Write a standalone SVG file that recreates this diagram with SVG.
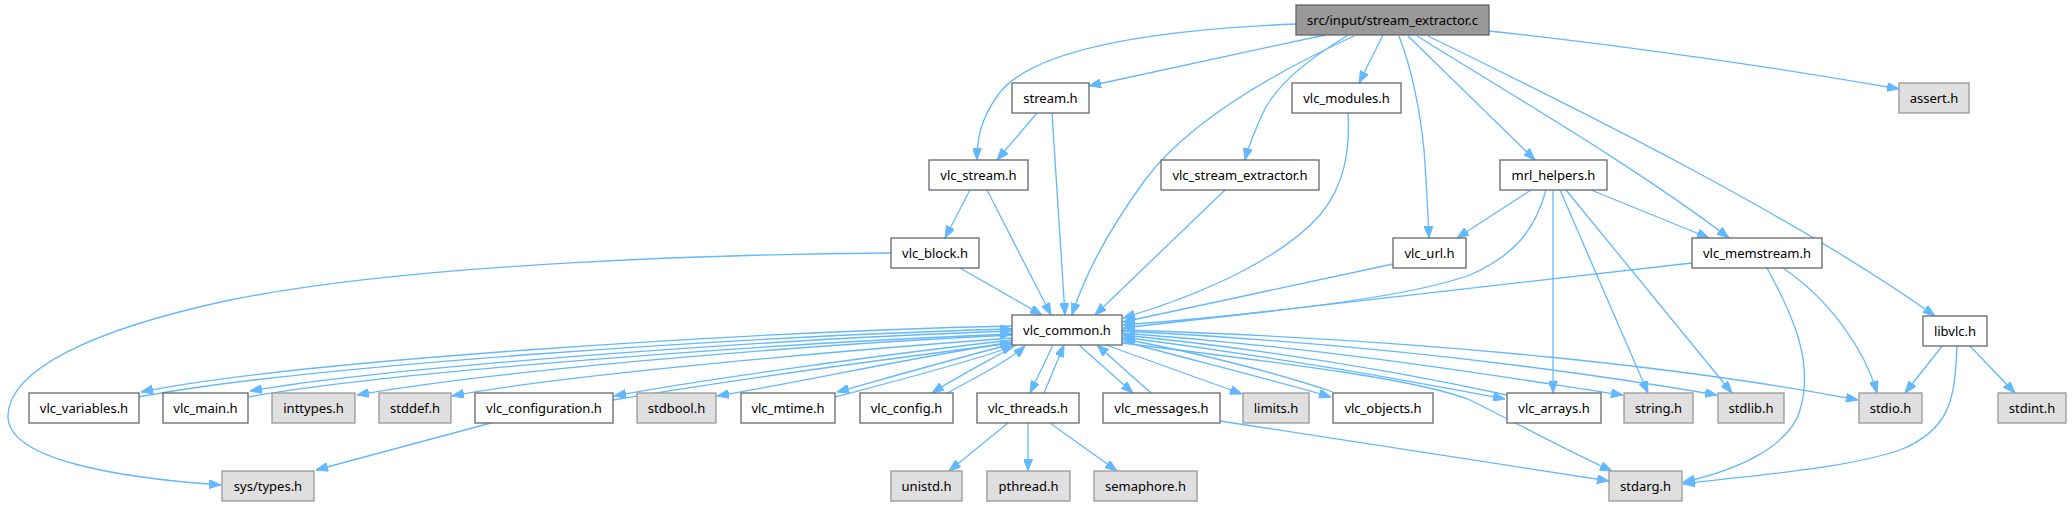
<svg xmlns="http://www.w3.org/2000/svg" width="2072" height="506" viewBox="0 0 2072 506">
<style>
.n rect{fill:#ffffff;stroke:#666666;stroke-width:1.3}
.g rect{fill:#e0e0e0;stroke:#999999;stroke-width:1.3}
.r rect{fill:#999999;stroke:#666666;stroke-width:1.3}
text{font-family:"Noto Sans","Liberation Sans",sans-serif;font-size:13px;fill:#000000;text-anchor:middle}
#edges path{fill:none;stroke:#63b8ff;stroke-width:1.3;marker-end:url(#ah)}
</style>
<defs>
<marker id="ah" markerWidth="12" markerHeight="9" refX="12" refY="4.5" orient="auto" markerUnits="userSpaceOnUse">
<path d="M0,0 L12,4.5 L0,9 z" fill="#63b8ff" stroke="#63b8ff" stroke-width="1"/>
</marker>
</defs>
<rect width="2072" height="506" fill="#ffffff"/>
<g id="edges">
<path d="M1296,24 C1150,30 1030,50 998,95 C980,120 977,140 977,160"/>
<path d="M1325,35 L1089,86"/>
<path d="M1354,36 C1280,70 1190,120 1145,180 C1105,235 1083,280 1072,315"/>
<path d="M1347,36 C1310,58 1275,85 1262,115 C1253,135 1248,148 1245,160"/>
<path d="M1383,35 L1359,83"/>
<path d="M1399,36 C1412,70 1420,110 1424,150 C1427,190 1428,215 1429,238"/>
<path d="M1408,36 L1535,160"/>
<path d="M1417,36 C1520,100 1640,170 1729,238"/>
<path d="M1428,36 C1600,120 1800,220 1935,316"/>
<path d="M1489,31 C1620,45 1780,68 1899,89"/>
<path d="M1037,113 L997,160"/>
<path d="M1052,113 L1065,315"/>
<path d="M970,190 L945,238"/>
<path d="M987,190 L1051,315"/>
<path d="M960,268 L1042,315"/>
<path d="M891,253 C740,254 420,262 230,300 C90,330 10,370 8,415 C6,460 120,478 221,485"/>
<path d="M1225,190 L1095,315"/>
<path d="M1348,113 C1350,150 1345,185 1320,215 C1280,260 1200,295 1123,318"/>
<path d="M1393,264 L1123,322"/>
<path d="M1531,190 L1457,238"/>
<path d="M1546,190 C1535,230 1515,255 1470,275 C1400,300 1250,315 1123,325"/>
<path d="M1553,190 L1553,393"/>
<path d="M1560,190 L1648,393"/>
<path d="M1566,190 L1732,393"/>
<path d="M1591,190 L1709,238"/>
<path d="M1692,263 L1123,328"/>
<path d="M1767,268 C1790,310 1815,360 1800,410 C1790,445 1740,470 1683,482"/>
<path d="M1783,268 C1830,300 1865,350 1877,393"/>
<path d="M1943,345 L1905,393"/>
<path d="M1969,345 L2015,393"/>
<path d="M1957,345 C1955,400 1950,430 1900,450 C1840,470 1750,475 1683,484"/>
<path d="M1012,326 C750,332 300,360 141,392"/>
<path d="M139,397 C300,366 750,336 1012,329"/>
<path d="M1012,331 C800,338 400,365 250,391"/>
<path d="M248,397 C400,370 800,342 1012,334"/>
<path d="M1012,335 C800,345 500,370 357,395"/>
<path d="M1012,338 C850,350 560,375 452,396"/>
<path d="M1012,340 C880,355 700,380 614,396"/>
<path d="M613,400 C700,385 880,360 1012,343"/>
<path d="M1012,342 C900,360 800,382 717,396"/>
<path d="M1012,344 C950,360 880,380 837,392"/>
<path d="M835,397 C880,385 960,365 1014,346"/>
<path d="M1016,345 C990,360 955,378 932,393"/>
<path d="M947,393 C975,378 1010,360 1025,346"/>
<path d="M1053,345 L1030,393"/>
<path d="M1044,393 L1064,345"/>
<path d="M1079,345 L1133,393"/>
<path d="M1151,393 L1097,345"/>
<path d="M1106,345 L1242,394"/>
<path d="M1122,341 C1200,362 1280,382 1331,397"/>
<path d="M1333,392 C1280,374 1200,353 1123,339"/>
<path d="M1122,337 C1300,360 1430,385 1505,399"/>
<path d="M1507,395 C1420,376 1300,353 1123,335"/>
<path d="M1122,333 C1350,350 1520,380 1623,395"/>
<path d="M1122,331 C1400,345 1600,375 1717,395"/>
<path d="M1122,330 C1450,340 1700,370 1858,400"/>
<path d="M1122,343 C1300,365 1420,380 1470,400 C1520,425 1570,452 1612,471"/>
<path d="M1220,421 L1609,481"/>
<path d="M491,423 L316,470"/>
<path d="M1008,423 L949,471"/>
<path d="M1028,423 L1028,471"/>
<path d="M1050,423 L1117,471"/>
</g>
<g id="n_src" class="r"><rect x="1296" y="5" width="193" height="30"/><text x="1392.5" y="24.5">src/input/stream_extractor.c</text></g>
<g id="n_stream" class="n"><rect x="1012" y="83" width="77" height="30"/><text x="1050.5" y="102.5">stream.h</text></g>
<g id="n_vlc_modules" class="n"><rect x="1292" y="83" width="109" height="30"/><text x="1346.5" y="102.5">vlc_modules.h</text></g>
<g id="n_assert" class="g"><rect x="1899" y="83" width="70" height="30"/><text x="1934" y="102.5">assert.h</text></g>
<g id="n_vlc_stream" class="n"><rect x="929" y="160" width="99" height="30"/><text x="978.5" y="179.5">vlc_stream.h</text></g>
<g id="n_vlc_stream_extractor" class="n"><rect x="1161" y="160" width="158" height="30"/><text x="1240" y="179.5">vlc_stream_extractor.h</text></g>
<g id="n_mrl_helpers" class="n"><rect x="1500" y="160" width="107" height="30"/><text x="1553.5" y="179.5">mrl_helpers.h</text></g>
<g id="n_vlc_block" class="n"><rect x="891" y="238" width="88" height="30"/><text x="935" y="257.5">vlc_block.h</text></g>
<g id="n_vlc_url" class="n"><rect x="1393" y="238" width="73" height="30"/><text x="1429.5" y="257.5">vlc_url.h</text></g>
<g id="n_vlc_memstream" class="n"><rect x="1692" y="238" width="130" height="30"/><text x="1757" y="257.5">vlc_memstream.h</text></g>
<g id="n_vlc_common" class="n"><rect x="1012" y="315" width="110" height="30"/><text x="1067" y="334.5">vlc_common.h</text></g>
<g id="n_libvlc" class="n"><rect x="1923" y="316" width="64" height="30"/><text x="1955" y="335.5">libvlc.h</text></g>
<g id="n_vlc_variables" class="n"><rect x="29" y="393" width="110" height="30"/><text x="84" y="412.5">vlc_variables.h</text></g>
<g id="n_vlc_main" class="n"><rect x="163" y="393" width="85" height="30"/><text x="205.5" y="412.5">vlc_main.h</text></g>
<g id="n_inttypes" class="g"><rect x="272" y="393" width="83" height="30"/><text x="313.5" y="412.5">inttypes.h</text></g>
<g id="n_stddef" class="g"><rect x="379" y="393" width="72" height="30"/><text x="415" y="412.5">stddef.h</text></g>
<g id="n_vlc_configuration" class="n"><rect x="475" y="393" width="138" height="30"/><text x="544" y="412.5">vlc_configuration.h</text></g>
<g id="n_stdbool" class="g"><rect x="637" y="393" width="79" height="30"/><text x="676.5" y="412.5">stdbool.h</text></g>
<g id="n_vlc_mtime" class="n"><rect x="741" y="393" width="94" height="30"/><text x="788" y="412.5">vlc_mtime.h</text></g>
<g id="n_vlc_config" class="n"><rect x="860" y="393" width="93" height="30"/><text x="906.5" y="412.5">vlc_config.h</text></g>
<g id="n_vlc_threads" class="n"><rect x="977" y="393" width="102" height="30"/><text x="1028" y="412.5">vlc_threads.h</text></g>
<g id="n_vlc_messages" class="n"><rect x="1103" y="393" width="117" height="30"/><text x="1161.5" y="412.5">vlc_messages.h</text></g>
<g id="n_limits" class="g"><rect x="1243" y="393" width="66" height="30"/><text x="1276" y="412.5">limits.h</text></g>
<g id="n_vlc_objects" class="n"><rect x="1333" y="393" width="100" height="30"/><text x="1383" y="412.5">vlc_objects.h</text></g>
<g id="n_vlc_arrays" class="n"><rect x="1507" y="393" width="94" height="30"/><text x="1554" y="412.5">vlc_arrays.h</text></g>
<g id="n_string" class="g"><rect x="1624" y="393" width="69" height="30"/><text x="1658.5" y="412.5">string.h</text></g>
<g id="n_stdlib" class="g"><rect x="1718" y="393" width="66" height="30"/><text x="1751" y="412.5">stdlib.h</text></g>
<g id="n_stdio" class="g"><rect x="1859" y="393" width="63" height="30"/><text x="1890.5" y="412.5">stdio.h</text></g>
<g id="n_stdint" class="g"><rect x="1998" y="393" width="68" height="30"/><text x="2032" y="412.5">stdint.h</text></g>
<g id="n_sys_types" class="g"><rect x="222" y="471" width="92" height="30"/><text x="268" y="490.5">sys/types.h</text></g>
<g id="n_unistd" class="g"><rect x="891" y="471" width="71" height="30"/><text x="926.5" y="490.5">unistd.h</text></g>
<g id="n_pthread" class="g"><rect x="987" y="471" width="83" height="30"/><text x="1028.5" y="490.5">pthread.h</text></g>
<g id="n_semaphore" class="g"><rect x="1094" y="471" width="103" height="30"/><text x="1145.5" y="490.5">semaphore.h</text></g>
<g id="n_stdarg" class="g"><rect x="1609" y="471" width="73" height="30"/><text x="1645.5" y="490.5">stdarg.h</text></g>
</svg>
